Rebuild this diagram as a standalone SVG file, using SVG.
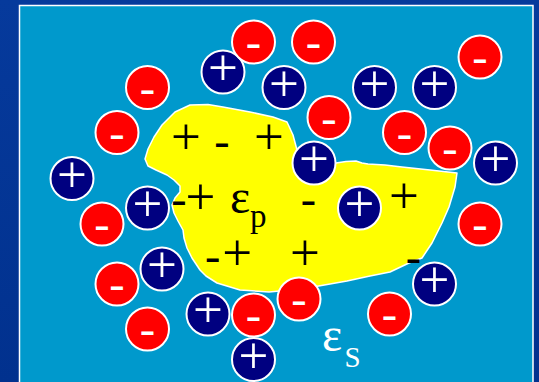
<svg xmlns="http://www.w3.org/2000/svg" width="539" height="382" viewBox="0 0 539 382">
  <defs>
    <linearGradient id="bg" x1="0" y1="0" x2="0" y2="1">
      <stop offset="0" stop-color="#063a9c"/>
      <stop offset="1" stop-color="#01318e"/>
    </linearGradient>
    <style>
      .neg circle { fill: #ff0000; stroke: #ffffff; stroke-width: 2; }
      .pos circle { fill: #000080; stroke: #ffffff; stroke-width: 2; }
      .plus { font-family: "Liberation Serif", "Times New Roman", serif; font-size: 53px; text-anchor: middle; }
      .minus { font-family: "Liberation Serif", "Times New Roman", serif; font-size: 46px; text-anchor: middle; }
      .w { fill: #ffffff; }
      .k { fill: #000000; }
      .eps { font-family: "Liberation Serif", "Times New Roman", serif; }
    </style>
  </defs>

  <!-- background -->
  <rect x="0" y="0" width="539" height="382" fill="url(#bg)"/>
  <rect x="19.5" y="5.5" width="513.5" height="390" fill="#0099cc" stroke="#ffffff" stroke-width="1.5"/>

  <!-- yellow region (protein) -->
  <g id="protein">
    <path d="M190,105 L208,104.5 L223,107 L250,112 L273,117 L287,122 L293,135 L297,150 L300,160 L320,163 L336,163 L346,161.5 L356,161 L362,163 L368,164 L385,165 L402,167 L430,170 L457,173 L455,187 L449,207 L442,223 L432,243 L422,258 L409,263 L390,272 L370,276 L347,281 L313,287 L290,290 L269,292 L240,290 L217,283 L206,276 L200,270 L192,258 L187,248 L184,238 L183,230 L178,221 L174,213 L172,205 L175,198 L180,192 L180,186 L174,180 L167,175 L156,170 L148,166 L145,159 L148,149 L154,137 L162,125 L175,112 Z" fill="#ffff00" stroke="#ffffff" stroke-width="1.5" stroke-linejoin="round"/>
    <text class="plus k" x="186" y="154.4">+</text>
    <text class="minus k" x="222" y="156.4">-</text>
    <text class="plus k" x="269" y="154.4">+</text>
    <text class="minus k" x="179" y="213.9">-</text>
    <text class="plus k" x="200.5" y="213.9">+</text>
    <text class="minus k" x="308.3" y="214.4">-</text>
    <text class="plus k" x="404" y="212.7">+</text>
    <text class="minus k" x="212.7" y="271.1">-</text>
    <text class="plus k" x="237.3" y="270.1">+</text>
    <text class="plus k" x="305" y="270.1">+</text>
    <text class="minus k" x="413.3" y="272.1">-</text>
    <text class="eps k" x="230" y="213" font-size="48">ε</text>
    <text class="eps k" x="250" y="227" font-size="33">p</text>
  </g>

  <!-- solvent label -->
  <g id="solvent-label">
    <text class="eps w" x="322" y="351" font-size="48">ε</text>
    <text class="eps w" x="344.5" y="366.5" font-size="29">S</text>
  </g>

  <!-- positive ions -->
  <g id="pos1" class="pos"><circle cx="223" cy="72" r="21.5"/><text class="plus w" x="223" y="85.4">+</text></g>
  <g id="pos2" class="pos"><circle cx="284" cy="87.5" r="21.5"/><text class="plus w" x="284" y="100.9">+</text></g>
  <g id="pos3" class="pos"><circle cx="374.5" cy="87.5" r="21.5"/><text class="plus w" x="374.5" y="100.9">+</text></g>
  <g id="pos4" class="pos"><circle cx="434.5" cy="87.5" r="21.5"/><text class="plus w" x="434.5" y="100.9">+</text></g>
  <g id="pos5" class="pos"><circle cx="72" cy="178.5" r="21.5"/><text class="plus w" x="72" y="191.9">+</text></g>
  <g id="pos6" class="pos"><circle cx="314" cy="163" r="21.5"/><text class="plus w" x="314" y="176.4">+</text></g>
  <g id="pos7" class="pos"><circle cx="495.5" cy="163" r="21.5"/><text class="plus w" x="495.5" y="176.4">+</text></g>
  <g id="pos8" class="pos"><circle cx="147.5" cy="208" r="21.5"/><text class="plus w" x="147.5" y="221.4">+</text></g>
  <g id="pos9" class="pos"><circle cx="162" cy="269" r="21.5"/><text class="plus w" x="162" y="282.4">+</text></g>
  <g id="pos10" class="pos"><circle cx="359.5" cy="208" r="21.5"/><text class="plus w" x="359.5" y="221.4">+</text></g>
  <g id="pos11" class="pos"><circle cx="208" cy="314" r="21.5"/><text class="plus w" x="208" y="327.4">+</text></g>
  <g id="pos13" class="pos"><circle cx="434.5" cy="284" r="21.5"/><text class="plus w" x="434.5" y="297.4">+</text></g>

  <!-- negative ions -->
  <g id="neg1" class="neg"><circle cx="253.5" cy="42" r="21.5"/><text class="minus w" x="253.5" y="57.4">-</text></g>
  <g id="neg2" class="neg"><circle cx="313.5" cy="42" r="21.5"/><text class="minus w" x="313.5" y="57.4">-</text></g>
  <g id="neg3" class="neg"><circle cx="480" cy="57" r="21.5"/><text class="minus w" x="480" y="72.4">-</text></g>
  <g id="neg4" class="neg"><circle cx="147.5" cy="87.5" r="21.5"/><text class="minus w" x="147.5" y="102.9">-</text></g>
  <g id="neg5" class="neg"><circle cx="117" cy="132.5" r="21.5"/><text class="minus w" x="117" y="147.9">-</text></g>
  <g id="neg6" class="neg"><circle cx="329" cy="117.5" r="21.5"/><text class="minus w" x="329" y="132.9">-</text></g>
  <g id="neg7" class="neg"><circle cx="404.5" cy="132.5" r="21.5"/><text class="minus w" x="404.5" y="147.9">-</text></g>
  <g id="neg8" class="neg"><circle cx="450" cy="148" r="21.5"/><text class="minus w" x="450" y="163.4">-</text></g>
  <g id="neg9" class="neg"><circle cx="102" cy="224" r="21.5"/><text class="minus w" x="102" y="239.4">-</text></g>
  <g id="neg10" class="neg"><circle cx="117" cy="284" r="21.5"/><text class="minus w" x="117" y="299.4">-</text></g>
  <g id="neg11" class="neg"><circle cx="147.5" cy="329" r="21.5"/><text class="minus w" x="147.5" y="344.4">-</text></g>
  <g id="neg12" class="neg"><circle cx="253.5" cy="315" r="21.5"/><text class="minus w" x="253.5" y="330.4">-</text></g>
  <g id="neg13" class="neg"><circle cx="299" cy="299" r="21.5"/><text class="minus w" x="299" y="314.4">-</text></g>
  <g id="neg14" class="neg"><circle cx="389.5" cy="314" r="21.5"/><text class="minus w" x="389.5" y="329.4">-</text></g>
  <g id="neg15" class="neg"><circle cx="480" cy="224" r="21.5"/><text class="minus w" x="480" y="239.4">-</text></g>

  <g id="pos12" class="pos"><circle cx="253.5" cy="359.5" r="21.5"/><text class="plus w" x="253.5" y="372.9">+</text></g>
</svg>
